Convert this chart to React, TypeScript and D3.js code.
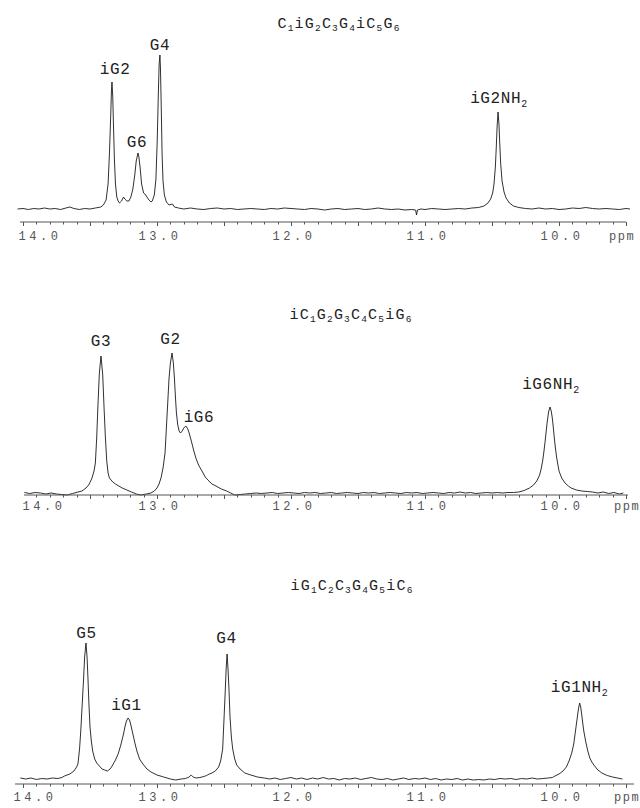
import React from 'react';
import * as d3 from 'd3';

type Pt = [number, number];
type PeakLabel = { text: string; ppm: number; h: number };

// ---------- data ----------
const tickValues: number[] = [14, 13, 12, 11, 10];
const tickLabels: string[] = ['14.0', '13.0', '12.0', '11.0', '10.0'];
const unitLabel = 'ppm';

const title1 = 'C_1iG_2C_3G_4iC_5G_6';
const title2 = 'iC_1G_2G_3C_4C_5iG_6';
const title3 = 'iG_1C_2C_3G_4G_5iC_6';

// [ppm, intensity]
const spectrum1: Pt[] = [
  [14.04, 0], [14.0, 0.5], [13.96, -0.5], [13.92, 0.5], [13.88, 0], [13.84, 1], [13.8, 0], [13.76, 0.5],
  [13.72, -0.5], [13.68, 1], [13.65, 2], [13.62, 0.5], [13.58, -0.5], [13.54, 0.5], [13.5, 0], [13.46, 1],
  [13.42, 2], [13.4, 4], [13.38, 9], [13.365, 25], [13.355, 55], [13.345, 95], [13.34, 118], [13.336, 127],
  [13.33, 112], [13.325, 85], [13.318, 50], [13.31, 25], [13.3, 12], [13.29, 8], [13.28, 6], [13.265, 8],
  [13.25, 12], [13.24, 10], [13.225, 8], [13.21, 8], [13.195, 12], [13.18, 20], [13.165, 35], [13.155, 48],
  [13.142, 56], [13.135, 52], [13.125, 40], [13.115, 25], [13.1, 16], [13.09, 15], [13.075, 12], [13.06, 9],
  [13.045, 7], [13.035, 8], [13.02, 14], [13.008, 30], [12.998, 70], [12.99, 115], [12.984, 145], [12.978, 154],
  [12.974, 140], [12.968, 100], [12.962, 55], [12.955, 28], [12.945, 14], [12.93, 7], [12.91, 4], [12.885, 5],
  [12.87, 2], [12.84, 1], [12.8, 0], [12.75, 1], [12.7, 0], [12.65, -0.5], [12.6, 0.5], [12.55, 1],
  [12.5, 0], [12.45, 0.5], [12.4, -0.5], [12.35, 0], [12.3, 0.5], [12.25, 0], [12.2, -0.5], [12.15, 0.5],
  [12.1, 0], [12.05, 1], [12.0, 0.5], [11.95, 0], [11.9, -0.5], [11.85, 0.5], [11.8, 0], [11.75, -1],
  [11.7, 0], [11.65, 0.5], [11.6, -0.5], [11.55, 0], [11.5, 0.5], [11.45, -0.5], [11.4, 0], [11.35, 1],
  [11.3, 0], [11.25, -0.5], [11.2, 0], [11.15, -1], [11.1, -0.5], [11.07, -1], [11.063, -6], [11.056, -1],
  [11.03, 0], [11.0, -0.5], [10.95, 0.5], [10.9, 0], [10.85, -0.5], [10.8, 0], [10.75, 0.5], [10.7, 0],
  [10.65, 1], [10.6, 1.5], [10.56, 3], [10.53, 6], [10.51, 10], [10.495, 16], [10.485, 25], [10.475, 42],
  [10.468, 62], [10.462, 82], [10.455, 97], [10.448, 85], [10.442, 65], [10.435, 45], [10.425, 28], [10.41, 17],
  [10.395, 11], [10.37, 6], [10.34, 3], [10.3, 1.5], [10.25, 0.5], [10.2, 0], [10.15, 1], [10.1, 0],
  [10.05, 0.5], [10.0, -0.5], [9.95, 0], [9.9, 1], [9.85, 0.5], [9.8, 1.5], [9.75, 0.5], [9.7, 0],
  [9.65, 0.5], [9.6, 0], [9.55, -0.5], [9.5, 0.5], [9.47, 0],
];

const spectrum2: Pt[] = [
  [13.99, 0.5], [13.95, -0.5], [13.91, 0.5], [13.87, 0], [13.83, -1], [13.79, 0], [13.75, -1], [13.71, -1.5],
  [13.67, -2], [13.63, -0.5], [13.59, 1], [13.56, 2], [13.53, 5], [13.51, 8], [13.495, 12], [13.485, 15],
  [13.47, 22], [13.46, 30], [13.45, 55], [13.44, 90], [13.43, 120], [13.418, 137], [13.405, 118], [13.395, 85],
  [13.385, 55], [13.375, 32], [13.365, 20], [13.355, 15], [13.33, 11], [13.31, 9], [13.285, 7], [13.26, 5],
  [13.225, 3], [13.19, 1], [13.155, -1], [13.12, -2], [13.08, -1], [13.045, 0], [13.02, 2], [13.0, 5],
  [12.985, 9], [12.97, 15], [12.955, 25], [12.94, 40], [12.93, 65], [12.92, 90], [12.91, 115], [12.9, 130],
  [12.888, 140], [12.878, 130], [12.87, 115], [12.862, 95], [12.855, 80], [12.845, 68], [12.835, 62], [12.825, 60],
  [12.812, 62], [12.8, 65], [12.785, 67], [12.77, 64], [12.76, 60], [12.74, 50], [12.725, 42], [12.71, 35],
  [12.69, 28], [12.66, 21], [12.64, 16], [12.62, 13], [12.59, 9], [12.56, 7], [12.52, 4], [12.48, 2],
  [12.45, 0], [12.42, -2], [12.38, -1.5], [12.34, -1], [12.3, -0.5], [12.26, 0], [12.22, -0.5], [12.18, 0],
  [12.14, 0.5], [12.1, -0.5], [12.06, 0], [12.02, 0.5], [11.98, 0], [11.94, -0.5], [11.9, 0.5], [11.86, 0],
  [11.82, 0.5], [11.78, -0.5], [11.74, 0], [11.7, 0.5], [11.66, -0.5], [11.62, 0], [11.58, 0.5], [11.54, 0],
  [11.5, -0.5], [11.46, 0.5], [11.42, 0], [11.38, 0.5], [11.34, -0.5], [11.3, 0], [11.26, 0.5], [11.22, 0],
  [11.18, -0.5], [11.14, 0.5], [11.1, 0], [11.06, 0.5], [11.02, -0.5], [10.98, 0], [10.94, 0.5], [10.9, 0],
  [10.86, -0.5], [10.82, 0.5], [10.78, 0], [10.74, 1], [10.7, 0], [10.66, 0.5], [10.62, -0.5], [10.58, 0],
  [10.54, 0.5], [10.5, 0], [10.46, 0.5], [10.42, 0], [10.38, 0.5], [10.34, 0.5], [10.3, 1], [10.26, 2.5],
  [10.22, 5], [10.19, 8], [10.166, 12], [10.145, 18], [10.135, 23], [10.122, 32], [10.114, 40], [10.105, 50],
  [10.097, 60], [10.088, 71], [10.078, 81], [10.067, 86], [10.058, 82], [10.05, 75], [10.042, 65], [10.035, 55],
  [10.026, 44], [10.017, 35], [10.008, 28], [10.0, 22], [9.98, 15], [9.955, 10], [9.93, 7], [9.91, 5],
  [9.87, 3], [9.83, 2], [9.79, 1.5], [9.75, 1], [9.71, 0], [9.67, 1], [9.63, -0.5], [9.59, 0.5],
  [9.55, -1], [9.52, 0],
];

const spectrum3: Pt[] = [
  [14.02, 1], [13.98, 0], [13.94, 1], [13.9, -0.5], [13.86, 0.5], [13.82, 0], [13.78, 1], [13.74, 0.5],
  [13.71, 1.5], [13.69, 3], [13.65, 5], [13.62, 8], [13.6, 12], [13.59, 15], [13.578, 30], [13.568, 50],
  [13.558, 75], [13.548, 100], [13.54, 122], [13.53, 136], [13.522, 122], [13.515, 100], [13.508, 75], [13.5, 52],
  [13.49, 38], [13.48, 28], [13.465, 20], [13.45, 16], [13.43, 13], [13.41, 10], [13.39, 9], [13.37, 8],
  [13.35, 10], [13.335, 13], [13.31, 19], [13.29, 25], [13.27, 34], [13.25, 45], [13.238, 53], [13.228, 58],
  [13.216, 61], [13.205, 59], [13.195, 54], [13.18, 45], [13.165, 36], [13.15, 28], [13.13, 20], [13.105, 15],
  [13.075, 10], [13.045, 7], [13.0, 4], [12.95, 2], [12.9, 0], [12.86, -1], [12.82, 0], [12.786, 0.5],
  [12.76, 2], [12.745, 4], [12.73, 2], [12.71, 1], [12.68, 1.5], [12.65, 2.5], [12.63, 3.5], [12.61, 5],
  [12.59, 6], [12.565, 8], [12.54, 12], [12.525, 18], [12.51, 30], [12.5, 60], [12.49, 90], [12.484, 110],
  [12.477, 125], [12.47, 110], [12.463, 90], [12.455, 62], [12.445, 42], [12.435, 30], [12.42, 20], [12.405, 14],
  [12.38, 10], [12.345, 6], [12.3, 4], [12.25, 2], [12.2, 1], [12.16, 0], [12.12, 1], [12.08, -0.5],
  [12.04, 0.5], [12.0, 1.5], [11.96, 0], [11.92, 1], [11.88, -0.5], [11.84, 1], [11.8, 0], [11.76, 1.5],
  [11.72, 0], [11.68, 0.5], [11.64, -1], [11.6, 0.5], [11.56, 0], [11.52, 1], [11.48, -0.5], [11.44, 0.5],
  [11.4, 1.5], [11.36, 0], [11.32, -0.5], [11.28, 0.5], [11.24, -1], [11.2, 0], [11.16, 1], [11.12, -0.5],
  [11.08, 0.5], [11.04, 0], [11.0, 1], [10.96, -0.5], [10.92, 0.5], [10.88, -1], [10.84, 0], [10.8, -0.5],
  [10.76, 0.5], [10.72, -1], [10.68, 0], [10.64, -1], [10.6, -0.5], [10.56, -1], [10.52, 0], [10.48, -0.5],
  [10.44, 0.5], [10.4, 0], [10.36, 0.5], [10.32, -0.5], [10.28, 0.5], [10.24, 0], [10.2, 1], [10.16, 0],
  [10.12, 0.5], [10.08, 1], [10.05, 1.5], [10.03, 3], [10.0, 5], [9.97, 8], [9.945, 12], [9.925, 18],
  [9.905, 26], [9.89, 35], [9.88, 45], [9.87, 55], [9.862, 63], [9.855, 70], [9.846, 76], [9.838, 72],
  [9.83, 64], [9.822, 55], [9.815, 48], [9.8, 37], [9.785, 28], [9.77, 21], [9.755, 17], [9.74, 14],
  [9.71, 9], [9.68, 6], [9.64, 3.5], [9.6, 2], [9.565, 1], [9.527, 0],
];

const peaks1: PeakLabel[] = [
  { text: 'iG2', ppm: 13.313, h: 135 },
  { text: 'G6', ppm: 13.149, h: 62 },
  { text: 'G4', ppm: 12.978, h: 159 },
  { text: 'iG2NH_2', ppm: 10.448, h: 106 },
];
const peaks2: PeakLabel[] = [
  { text: 'G3', ppm: 13.418, h: 147 },
  { text: 'G2', ppm: 12.899, h: 149 },
  { text: 'iG6', ppm: 12.687, h: 71 },
  { text: 'iG6NH_2', ppm: 10.06, h: 104 },
];
const peaks3: PeakLabel[] = [
  { text: 'G5', ppm: 13.526, h: 141 },
  { text: 'iG1', ppm: 13.228, h: 69 },
  { text: 'G4', ppm: 12.481, h: 136 },
  { text: 'iG1NH_2', ppm: 9.846, h: 87 },
];

// ---------- layout ----------
const W = 640;
const H = 808;

const panels = [
  { spectrum: spectrum1, peaks: peaks1, title: title1, baseY: 209, axisY: 222, axisX: [20, 626], tickLabelY: 240, titleX: 339, titleY: 28, ppmX: 609 },
  { spectrum: spectrum2, peaks: peaks2, title: title2, baseY: 493, axisY: 495, axisX: [24, 628], tickLabelY: 510, titleX: 351, titleY: 319, ppmX: 614 },
  { spectrum: spectrum3, peaks: peaks3, title: title3, baseY: 779, axisY: 784, axisX: [15, 634], tickLabelY: 801, titleX: 352, titleY: 590, ppmX: 614 },
];

const x = d3.scaleLinear().domain([14, 10]).range([23, 559]);

function rich(s: string, subSize: number, subDy: number) {
  const parts = s.split(/_(\d)/);
  const out: React.ReactNode[] = [];
  parts.forEach((p, i) => {
    if (p === '') return;
    if (i % 2 === 1) {
      out.push(<tspan key={i} dy={subDy} fontSize={subSize}>{p}</tspan>);
    } else {
      out.push(<tspan key={i} dy={i === 0 ? 0 : -subDy}>{p}</tspan>);
    }
  });
  return out;
}

const mono = "'Liberation Mono', 'DejaVu Sans Mono', monospace";

function Panel({ cfg }: { cfg: typeof panels[number] }) {
  const y = d3.scaleLinear().domain([0, 100]).range([cfg.baseY, cfg.baseY - 100]);
  const line = d3.line<Pt>().x(d => x(d[0])).y(d => y(d[1])).curve(d3.curveLinear);
  const lo = x.invert(cfg.axisX[1]);
  const hi = x.invert(cfg.axisX[0]);
  const ticks = d3.range(90, 145).map(v => v / 10).filter(v => v >= lo - 1e-9 && v <= hi + 1e-9);
  return (
    <g>
      <text x={cfg.titleX} y={cfg.titleY} textAnchor="middle" fontFamily={mono} fontSize={15} letterSpacing={1.2} fill="#222">
        {rich(cfg.title, 9.5, 3)}
      </text>
      <path d={line(cfg.spectrum) || ''} fill="none" stroke="#1a1a1a" strokeWidth={0.9} strokeLinejoin="round" />
      <line x1={cfg.axisX[0]} x2={cfg.axisX[1]} y1={cfg.axisY} y2={cfg.axisY} stroke="#555" strokeWidth={1} />
      {ticks.map(t => {
        const major = Math.abs(t * 2 - Math.round(t * 2)) < 1e-6;
        const px = Math.round(x(t)) + 0.5;
        return <line key={t} x1={px} x2={px} y1={cfg.axisY} y2={cfg.axisY + (major ? 4 : 2.5)} stroke="#555" strokeWidth={1} />;
      })}
      {tickValues.map((v, i) => (
        <text key={v} x={Math.max(x(v) + 3, cfg.axisX[0] + 20)} y={cfg.tickLabelY} textAnchor="middle"
          fontFamily={mono} fontSize={12} letterSpacing={3.5} fill="#555">
          {tickLabels[i]}
        </text>
      ))}
      <text x={cfg.ppmX} y={cfg.tickLabelY} fontFamily={mono} fontSize={12} letterSpacing={1.5} fill="#555">{unitLabel}</text>
      {cfg.peaks.map((p, i) => (
        <text key={i} x={x(p.ppm)} y={y(p.h)} textAnchor="middle" fontFamily={mono} fontSize={16} letterSpacing={0.6} fill="#222">
          {rich(p.text, 10, 4)}
        </text>
      ))}
    </g>
  );
}

export default function App() {
  return (
    <svg width={W} height={H} viewBox={`0 0 ${W} ${H}`} style={{ position: 'absolute', left: 0, top: 0, background: '#fff' }}>
      <rect width={W} height={H} fill="#fff" />
      {panels.map((p, i) => <Panel key={i} cfg={p} />)}
    </svg>
  );
}
